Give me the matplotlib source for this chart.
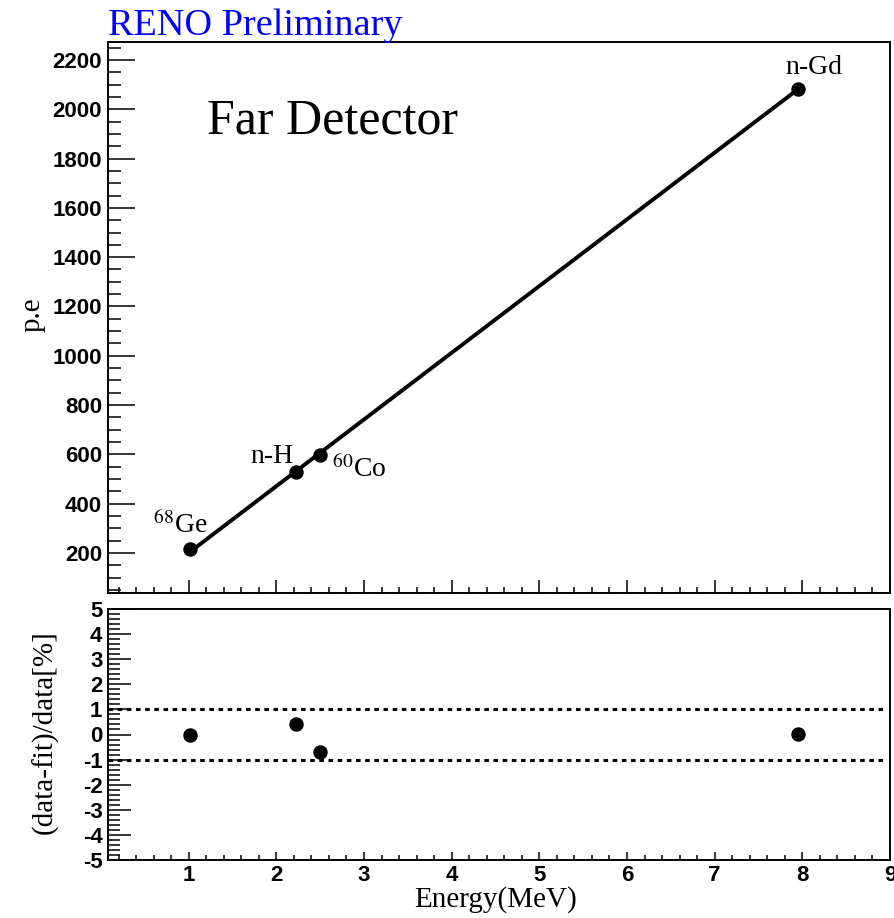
import numpy as np
import matplotlib
matplotlib.use("Agg")
import matplotlib.pyplot as plt
from matplotlib.ticker import MultipleLocator

# ---- data ----
sources = ["68Ge", "n-H", "60Co", "n-Gd"]
energy = [1.02, 2.23, 2.50, 7.945]          # MeV
pe = [214, 529, 599, 2082]                  # photo-electrons
residual = [0.0, 0.40, -0.70, 0.02]         # (data-fit)/data [%]
band = [1.0, -1.0]
top_yticks = [200, 400, 600, 800, 1000, 1200, 1400, 1600, 1800, 2000, 2200]
bot_yticks = [5, 4, 3, 2, 1, 0, -1, -2, -3, -4, -5]
xticks = [1, 2, 3, 4, 5, 6, 7, 8, 9]

W, H = 894, 918
plt.rcParams["axes.unicode_minus"] = False
plt.rcParams["mathtext.fontset"] = "stix"
fig = plt.figure(figsize=(W / 100, H / 100), dpi=100)

serif = "Liberation Serif"
sans = "Liberation Sans"


def frac(l, t, r, b):
    return [l / W, 1 - b / H, (r - l) / W, (b - t) / H]


ax1 = fig.add_axes(frac(108, 42, 890, 593.3))
ax2 = fig.add_axes(frac(108, 609, 890, 860))

xlim = (0.08, 9.0)
for ax in (ax1, ax2):
    ax.set_xlim(*xlim)
    for s in ax.spines.values():
        s.set_linewidth(1.4)
    ax.xaxis.set_major_locator(MultipleLocator(1))
    ax.xaxis.set_minor_locator(MultipleLocator(0.2))
    ax.tick_params(which="both", direction="in", top=False, right=False, width=1.1)

# ---- top panel ----
ax1.set_ylim(36, 2273)
ax1.set_yticks(top_yticks)
ax1.yaxis.set_minor_locator(MultipleLocator(50))
ax1.tick_params(axis="y", which="major", length=19.5, pad=4.3)
ax1.tick_params(axis="y", which="minor", length=9.4)
ax1.tick_params(axis="x", which="major", length=9.4, labelbottom=False)
ax1.tick_params(axis="x", which="minor", length=4.3)
for lab in ax1.get_yticklabels():
    lab.set_fontfamily(sans)
    lab.set_fontweight("bold")
    lab.set_fontsize(16)

coef = np.polyfit(energy, pe, 1)
xf = np.array([min(energy), max(energy)])
ax1.plot(xf, np.polyval(coef, xf), color="black", lw=2.8, solid_capstyle="butt", zorder=2)
ax1.plot(energy, pe, "o", color="black", ms=9.4, zorder=3)

lab_kw = dict(fontfamily=serif, fontsize=20, va="baseline", ha="left")
ax1.text(0.597, 280, r"$^{68}$Ge", **lab_kw)
ax1.text(1.705, 565, "n-H", **lab_kw)
ax1.text(2.64, 508, r"$^{60}$Co", **lab_kw)
ax1.text(7.81, 2143, "n-Gd", **lab_kw)

ax1.text((207 - 108) / 782, (593.3 - 133) / 551.3, "Far Detector", transform=ax1.transAxes,
         fontfamily=serif, fontsize=36, va="baseline", ha="left")

# ---- bottom panel ----
ax2.set_ylim(-5, 5)
ax2.set_yticks(bot_yticks)
ax2.yaxis.set_minor_locator(MultipleLocator(0.2))
ax2.set_xticks(xticks)
ax2.tick_params(axis="y", which="major", length=16.5, pad=4.0)
ax2.tick_params(axis="y", which="minor", length=8.5)
ax2.tick_params(axis="x", which="major", length=5.8, pad=3.5)
ax2.tick_params(axis="x", which="minor", length=3.6)
for lab in ax2.get_yticklabels() + ax2.get_xticklabels():
    lab.set_fontfamily(sans)
    lab.set_fontweight("bold")
    lab.set_fontsize(16)

for b in band:
    ax2.axhline(b, xmin=0, xmax=(8.93 - xlim[0]) / (xlim[1] - xlim[0]),
                color="black", lw=2.2, dashes=(1.5, 1.5), dash_capstyle="butt")
ax2.plot(energy, residual, "o", color="black", ms=9.4, zorder=3)

# ---- titles / labels ----
fig.text(108 / W, 1 - 35 / H, "RENO Preliminary", color="#0000ff",
         fontfamily=serif, fontsize=27.5, va="baseline", ha="left")
fig.text(33 / W, 1 - 315 / H, "p.e", rotation=90, fontfamily=serif, fontsize=21,
         ha="center", va="center")
fig.text(45 / W, 1 - 732.5 / H, "(data-fit)/data[%]", rotation=90, fontfamily=serif,
         fontsize=21, ha="center", va="center")
fig.text(496 / W, 1 - 907 / H, "Energy(MeV)", fontfamily=serif, fontsize=21,
         ha="center", va="baseline")

fig.savefig("out.png", dpi=100)
